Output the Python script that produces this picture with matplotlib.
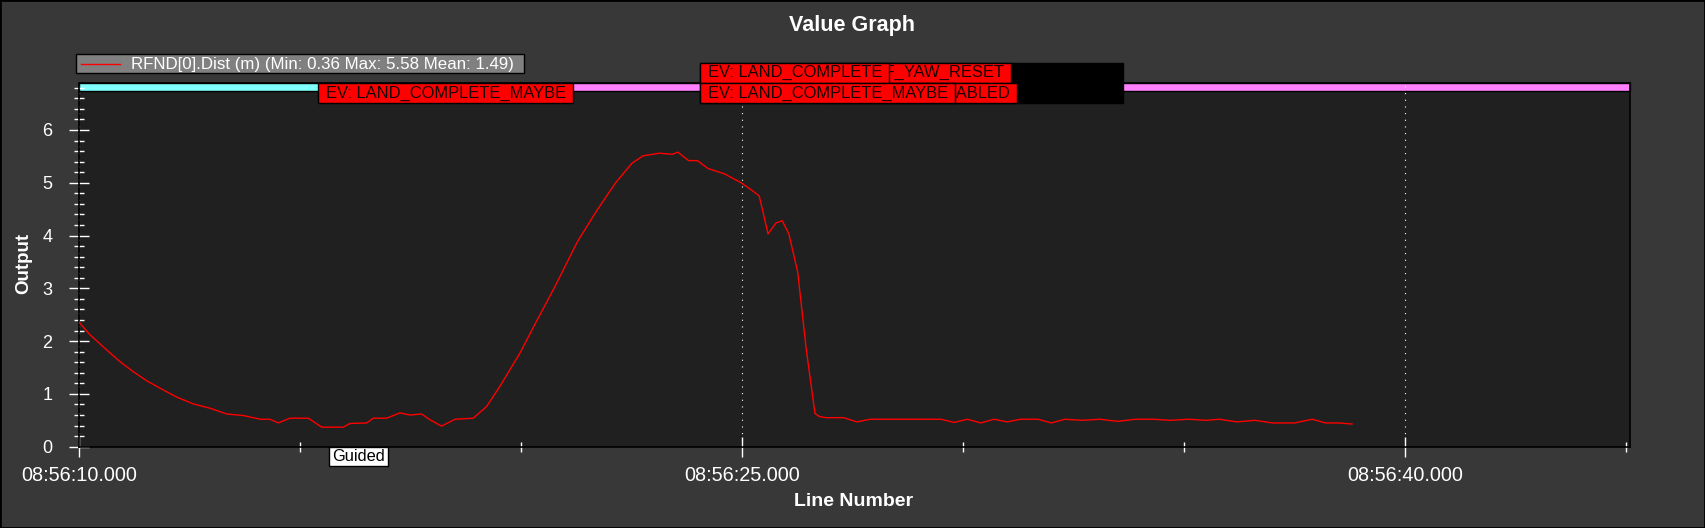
import matplotlib
matplotlib.use("Agg")
import matplotlib.pyplot as plt
from matplotlib.patches import Rectangle
from matplotlib.lines import Line2D
from matplotlib.ticker import FixedLocator, MultipleLocator
from matplotlib.transforms import blended_transform_factory

plt.rcParams['font.family'] = ['Liberation Sans', 'DejaVu Sans']

# ---------------- data ----------------
time_s = [0.0, 0.25, 0.63, 0.93, 1.23, 1.53, 1.83, 2.21, 2.59, 2.96, 3.34, 3.72,
          4.10, 4.32, 4.51, 4.77, 5.19, 5.49, 5.98, 6.13, 6.51, 6.66, 6.96, 7.26,
          7.49, 7.75, 7.94, 8.20, 8.51, 8.92, 9.22, 9.52, 9.98, 10.29, 10.79, 11.28,
          11.72, 12.14, 12.51, 12.76, 13.13, 13.42, 13.55, 13.79, 13.99, 14.23, 14.60,
          14.98, 15.22, 15.39, 15.59, 15.77, 15.91, 16.06, 16.26, 16.45, 16.65, 16.75,
          16.9, 17.3, 17.6, 17.9, 18.4, 19.0, 19.5, 19.8, 20.1, 20.4, 20.7, 21.0,
          21.3, 21.7, 22.0, 22.3, 22.7, 23.1, 23.5, 23.9, 24.3, 24.7, 25.1, 25.5,
          25.8, 26.2, 26.6, 27.0, 27.5, 27.9, 28.2, 28.5, 28.8]
dist_m = [2.36, 2.12, 1.83, 1.61, 1.42, 1.25, 1.11, 0.94, 0.81, 0.73, 0.62, 0.59,
          0.52, 0.52, 0.45, 0.54, 0.54, 0.37, 0.37, 0.44, 0.45, 0.54, 0.54, 0.64,
          0.60, 0.62, 0.51, 0.39, 0.52, 0.54, 0.76, 1.14, 1.78, 2.28, 3.07, 3.89,
          4.48, 5.00, 5.37, 5.51, 5.56, 5.54, 5.58, 5.42, 5.42, 5.27, 5.17,
          5.00, 4.86, 4.75, 4.03, 4.24, 4.28, 4.03, 3.31, 1.87, 0.63, 0.57,
          0.55, 0.55, 0.47, 0.52, 0.52, 0.52, 0.52, 0.46, 0.52, 0.45, 0.52, 0.47,
          0.52, 0.52, 0.45, 0.52, 0.50, 0.52, 0.48, 0.52, 0.52, 0.50, 0.52, 0.50,
          0.52, 0.47, 0.50, 0.45, 0.45, 0.52, 0.45, 0.45, 0.43]

series_label = "RFND[0].Dist (m) (Min: 0.36 Max: 5.58 Mean: 1.49)"

x_tick_pos = [0, 15, 30]
x_tick_labels = ["08:56:10.000", "08:56:25.000", "08:56:40.000"]
y_ticks = [0, 1, 2, 3, 4, 5, 6]

mode_starts = [0.0, 5.66]
mode_names = ["", "Guided"]
mode_colors = ["#80FFFF", "#FF80FF"]

# events: time, text, row (drawn in this order)
event_times = [16.86, 16.97, 14.05, 14.05, 5.41]
event_texts = ["EV: EKF_YAW_RESET", "EV: FENCE_ENABLED", "EV: LAND_COMPLETE",
               "EV: LAND_COMPLETE_MAYBE", "EV: LAND_COMPLETE_MAYBE"]
event_rows = [0, 1, 0, 1, 1]
black_span = (14.05, 23.62)

# ---------------- figure ----------------
W, H = 1705, 528
fig = plt.figure(figsize=(W / 100, H / 100), dpi=100, facecolor="#383838")
ax_l, ax_r, ax_t, ax_b = 79, 1630, 83, 446.7
ax = fig.add_axes([ax_l / W, 1 - ax_b / H, (ax_r - ax_l) / W, (ax_b - ax_t) / H],
                  facecolor="#202020")

ax.plot(time_s, dist_m, color="red", lw=1.0, zorder=3)
ax.set_xlim(0, 35.09)
ax.set_ylim(0, 6.89)

ax.xaxis.set_major_locator(FixedLocator(x_tick_pos))
ax.set_xticklabels(x_tick_labels)
ax.xaxis.set_minor_locator(MultipleLocator(5))
ax.yaxis.set_major_locator(FixedLocator(y_ticks))
ax.yaxis.set_minor_locator(MultipleLocator(0.2))

ax.tick_params(axis="both", which="major", direction="inout", length=14, width=1,
               color="white", labelcolor="white")
ax.tick_params(axis="both", which="minor", direction="inout", length=7, width=1,
               color="white")
ax.tick_params(axis="x", labelsize=14.3, pad=7)
ax.tick_params(axis="y", labelsize=13, pad=12)
for s in ax.spines.values():
    s.set_color("black")
    s.set_linewidth(1.2)
ax.xaxis.grid(True, which="major", color="white", linestyle=(0, (1, 5)), lw=0.8)

# mode band
trans = blended_transform_factory(ax.transData, ax.transAxes)
xmax = ax.get_xlim()[1]
for i, (st, col) in enumerate(zip(mode_starts, mode_colors)):
    en = mode_starts[i + 1] if i + 1 < len(mode_starts) else xmax
    ax.add_patch(Rectangle((st, 0.9788), en - st, 1 - 0.9788, transform=trans,
                           facecolor=col, edgecolor="black", lw=1, zorder=1,
                           clip_on=False))

fig.canvas.draw()
renderer = fig.canvas.get_renderer()


def px_x(t):
    return ax.transData.transform((t, 0))[0]


def add_box(x_left, y_top_px, text, face, tcolor, z, fs=11.9, hpad=7.5, h=20):
    txt = fig.text((x_left + hpad) / W, 1 - (y_top_px + h / 2) / H, text,
                   color=tcolor, fontsize=fs, va="center", ha="left", zorder=z + 0.5)
    bb = txt.get_window_extent(renderer)
    wbox = bb.width + 2 * hpad
    fig.add_artist(Rectangle((x_left / W, 1 - (y_top_px + h) / H), wbox / W, h / H,
                             transform=fig.transFigure, facecolor=face,
                             edgecolor="black", lw=1, zorder=z))


# mode labels below axis
for st, name in zip(mode_starts, mode_names):
    if name:
        add_box(px_x(st), 447, name, "white", "black", 10, fs=11.8, hpad=3, h=19)

# black event block
xb0, xb1 = px_x(black_span[0]), px_x(black_span[1])
fig.add_artist(Rectangle((xb0 / W, 1 - 103.3 / H), (xb1 - xb0) / W, (103.3 - 62.7) / H,
                         transform=fig.transFigure, facecolor="black",
                         edgecolor="black", lw=1, zorder=11))
row_top = [62.7, 83.3]
z = 12
for t, txt, r in zip(event_times, event_texts, event_rows):
    add_box(px_x(t), row_top[r], txt, "#FF0000", "#1a0000", z)
    z += 1

# legend
fig.add_artist(Rectangle((76 / W, 1 - 73.3 / H), (524 - 76) / W, 19 / H,
                         transform=fig.transFigure, facecolor="#808080",
                         edgecolor="black", lw=1, zorder=10))
fig.add_artist(Line2D([81 / W, 120 / W], [1 - 64 / H, 1 - 64 / H],
                      transform=fig.transFigure, color="red", lw=1, zorder=11))
fig.text(131 / W, 1 - 64 / H, series_label, color="white", fontsize=12.2,
         va="center", ha="left", zorder=11)

# titles
fig.text(852 / W, 1 - 26 / H, "Value Graph", color="white", fontsize=15.5,
         fontweight="bold", ha="center", va="center")
fig.text(854 / W, 1 - 502 / H, "Line Number", color="white", fontsize=14,
         fontweight="bold", ha="center", va="center")
fig.text(24 / W, 1 - 263 / H, "Output", color="white", fontsize=13.5,
         fontweight="bold", ha="center", va="center", rotation=90)

# figure frame
fig.add_artist(Rectangle((0, 0), 1, 1, transform=fig.transFigure, facecolor="none",
                         edgecolor="black", lw=2, zorder=20))

fig.savefig("out.png", dpi=100, facecolor=fig.get_facecolor())
